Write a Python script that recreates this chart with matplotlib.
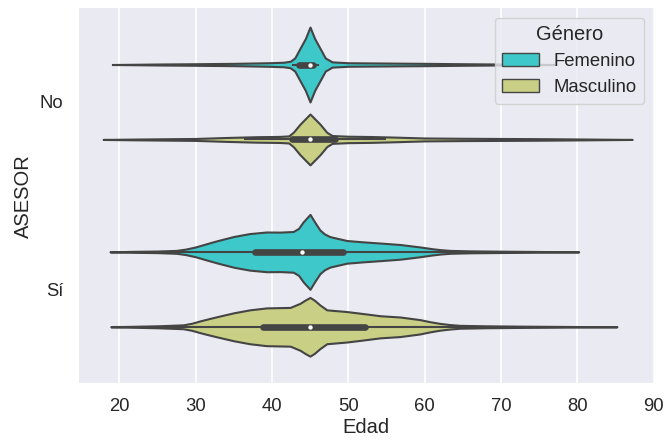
import matplotlib
matplotlib.use("Agg")
import matplotlib.pyplot as plt
from matplotlib.patches import Patch

# ---- data ----
categorias = ["No", "Sí"]
generos = ["Femenino", "Masculino"]

# Density profiles (relative half-width, widest violin = 1) along Edad
edad_no_fem = [19.1, 25, 30, 35, 39.5, 41.5, 42.4, 43.0, 43.7, 44.4, 45.0, 45.6, 46.3, 47.0, 47.9,
               50, 55, 60, 65, 70, 77]
dens_no_fem = [0, .013, .021, .031, .047, .06, .086, .175, .436, .697, 1.0, .697, .436, .175, .07,
               .047, .039, .031, .021, .013, 0]

edad_no_mas = [17.9, 22, 26, 30, 34, 38, 41, 42.2, 42.8, 43.7, 45.0, 46.3, 47.2, 47.9, 50, 53, 56,
               60, 65, 70, 75, 80, 87.2]
dens_no_mas = [0, .010, .018, .026, .052, .073, .081, .094, .19, .41, .679, .41, .19, .104, .086, .078, .063,
               .039, .031, .026, .021, .013, 0]

edad_si_fem = [18.8, 22, 25, 27.5, 28.7, 30, 31.4, 32.8, 35, 37.1, 39.3, 41.1, 42.8, 43.5, 44.1, 45.0,
               45.6, 46.3, 46.9, 47.6, 49.8, 52, 54.2, 56.8, 59.4, 61, 62, 63.3, 66, 70, 75, 80.2]
dens_si_fem = [0, .013, .021, .039, .073, .131, .214, .295, .41, .488, .53, .527, .543, .627, .799, 1.0,
               .799, .582, .478, .407, .303, .266, .235, .196, .131, .084, .06, .039, .026, .018, .010, 0]

edad_si_mas = [18.9, 22, 25, 28.4, 29.5, 30.6, 31.7, 32.8, 35, 37.1, 39.3, 42.4, 43.7, 44.4, 45.0, 45.6,
               46.3, 47.2, 49.8, 52, 54.2, 56.8, 59.4, 60.7, 62, 63.3, 64.6, 68, 72, 78, 85.2]
dens_si_mas = [0, .013, .026, .052, .094, .157, .214, .269, .373, .452, .504, .517, .627, .718, .783, .705,
               .582, .452, .407, .352, .295, .261, .191, .136, .091, .06, .039, .026, .018, .010, 0]

# box statistics: whisker low, q1, median, q3, whisker high
caja_no_fem = [42.6, 43.5, 45.0, 45.4, 46.2]
caja_no_mas = [36.3, 42.6, 45.0, 48.3, 55.0]
caja_si_fem = [21.0, 37.8, 44.0, 49.3, 66.0]
caja_si_mas = [19.5, 38.8, 45.0, 52.2, 72.0]

xticks = [20, 30, 40, 50, 60, 70, 80, 90]

# ---- style ----
plt.rcParams['font.family'] = ['Liberation Sans', 'DejaVu Sans']
colores = {"Femenino": "#3ec8c9", "Masculino": "#c9d085"}
gris = "#444444"
texto = "#262626"

fig = plt.figure(figsize=(6.67, 4.44), dpi=100)
ax = fig.add_axes([0.118, 0.1374, 0.8618, 0.8439])
ax.set_facecolor("#EAEAF2")
for s in ax.spines.values():
    s.set_visible(False)

violines = [
    (0, "Femenino", edad_no_fem, dens_no_fem, caja_no_fem),
    (0, "Masculino", edad_no_mas, dens_no_mas, caja_no_mas),
    (1, "Femenino", edad_si_fem, dens_si_fem, caja_si_fem),
    (1, "Masculino", edad_si_mas, dens_si_mas, caja_si_mas),
]
semiancho = 0.2
for cat, gen, edad, dens, caja in violines:
    pos = cat + (-0.2 if gen == "Femenino" else 0.2)
    lo = [pos - d * semiancho for d in dens]
    hi = [pos + d * semiancho for d in dens]
    ax.fill_between(edad, lo, hi, facecolor=colores[gen], edgecolor=gris,
                    linewidth=1.5, zorder=2, joinstyle='round')
    wl, q1, med, q3, wh = caja
    ax.plot([wl, wh], [pos, pos], color=gris, lw=1.5, zorder=3, solid_capstyle='butt')
    ax.plot([q1, q3], [pos, pos], color=gris, lw=4.8, zorder=3, solid_capstyle='round')
    ax.scatter([med], [pos], s=10, color='white', zorder=4, linewidths=0)

ax.set_xlim(14.7, 90.0)
ax.set_ylim(1.5, -0.5)
ax.set_xticks(xticks)
ax.set_yticks(range(len(categorias)))
ax.set_yticklabels(categorias)
ax.grid(axis='x', color='white', lw=1.2, zorder=0)
ax.set_axisbelow(True)
ax.tick_params(axis='both', length=0, pad=11, labelsize=13.3, colors=texto)
ax.set_xlabel("Edad", fontsize=14.5, color=texto, labelpad=2)
ax.set_ylabel("ASESOR", fontsize=14.5, color=texto, labelpad=5)

handles = [Patch(facecolor=colores[g], edgecolor=gris, linewidth=1.0, label=g) for g in generos]
leg = ax.legend(handles=handles, title="Género", loc="upper right", fontsize=13.3,
                title_fontsize=14.5, facecolor="#EAEAF2", edgecolor="#cccccc", framealpha=0.8)
for t in leg.get_texts():
    t.set_color(texto)
leg.get_title().set_color(texto)

fig.savefig("out.png", dpi=100)
